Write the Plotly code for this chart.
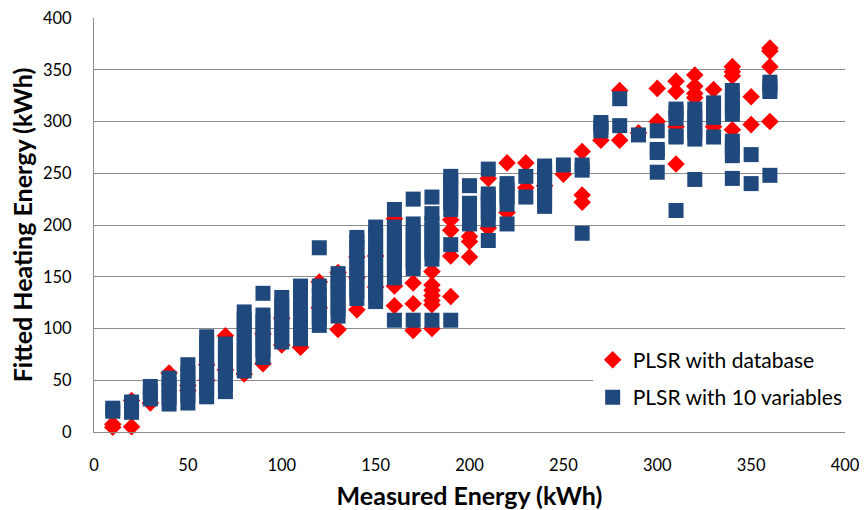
import plotly.graph_objects as go

# Measured energy (x) and fitted energy (y), kWh
# --- PLSR with database (red diamonds)
db_x = [10, 10, 20, 20, 30, 40, 50, 50, 60, 60, 70, 70, 80, 90, 90, 100, 100, 110,
        120, 120, 130, 130, 140, 140, 140, 150, 150, 160, 160, 160, 170, 170, 170,
        180, 180, 180, 180, 180, 180, 180, 190, 190, 190, 190, 200, 200, 200,
        210, 210, 220, 220, 230, 230, 240, 250, 260, 260, 260, 270, 280, 280,
        290, 300, 300, 310, 310, 310, 310, 320, 320, 320, 320, 330, 330,
        340, 340, 340, 340, 350, 350, 360, 360, 360, 360]
db_y = [4.5, 7.5, 5, 30.5, 28, 57, 40, 45, 50, 65, 60, 93, 56, 66, 95, 84, 110, 82,
        145, 120, 154, 99, 118, 149, 169, 140, 170, 206, 141, 122, 144, 124, 98,
        155, 142, 137, 132, 127, 123, 100, 205, 195, 170, 131, 189, 184, 169,
        245, 197, 260, 212, 260, 236, 238, 249, 271, 229, 222, 282, 330, 282,
        289, 332, 300, 339, 329, 295, 259, 345, 334, 327, 323, 331, 295,
        353, 348, 344, 292, 324, 297, 371, 368, 353, 300]

# --- PLSR with 10 variables (blue squares)
var_x = [10, 10,
         20, 20, 20,
         30, 30, 30,
         40, 40, 40, 40, 40,
         50, 50, 50, 50, 50, 50,
         60, 60, 60, 60, 60, 60, 60, 60, 60,
         70, 70, 70, 70, 70, 70, 70, 70,
         80, 80, 80, 80, 80, 80, 80, 80, 80,
         90, 90, 90, 90, 90, 90, 90, 90,
         100, 100, 100, 100, 100, 100, 100,
         110, 110, 110, 110, 110, 110, 110, 110,
         120, 120, 120, 120, 120, 120, 120,
         130, 130, 130, 130, 130, 130, 130,
         140, 140, 140, 140, 140, 140, 140, 140, 140, 140,
         150, 150, 150, 150, 150, 150, 150, 150, 150, 150, 150,
         160, 160, 160, 160, 160, 160, 160, 160, 160, 160,
         170, 170, 170, 170, 170, 170, 170, 170, 170,
         180, 180, 180, 180, 180, 180, 180, 180, 180,
         190, 190, 190, 190, 190, 190, 190, 190,
         200, 200, 200, 200, 200,
         210, 210, 210, 210, 210, 210, 210,
         220, 220, 220, 220, 220,
         230, 230,
         240, 240, 240, 240, 240, 240, 240,
         250,
         260, 260, 260,
         270, 270, 270,
         280, 280,
         290,
         300, 300, 300, 300,
         310, 310, 310, 310, 310, 310,
         320, 320, 320, 320, 320, 320,
         330, 330, 330, 330,
         340, 340, 340, 340, 340, 340, 340, 340,
         350, 350,
         360, 360, 360, 360]
var_y = [20, 23,
         19, 24, 29,
         32, 38, 44,
         27, 33, 40, 46, 52,
         28, 35, 42, 50, 57, 65,
         34, 41, 48, 55, 63, 70, 77, 85, 92,
         39, 46, 53, 60, 67, 74, 80, 85,
         59, 66, 73, 80, 87, 95, 102, 109, 116,
         72, 79, 86, 93, 100, 107, 113, 134,
         87, 94, 101, 108, 115, 122, 130,
         90, 97, 104, 111, 118, 126, 134, 141,
         103, 110, 117, 124, 132, 141, 178,
         112, 119, 126, 133, 140, 146, 153,
         129, 136, 143, 150, 157, 164, 171, 178, 184, 188,
         126, 133, 140, 147, 154, 161, 168, 175, 182, 190, 198,
         108, 149, 156, 163, 170, 177, 184, 191, 198, 215,
         108, 158, 165, 172, 179, 186, 193, 201, 225,
         108, 167, 174, 181, 188, 195, 202, 211, 227,
         108, 181, 215, 222, 229, 236, 242, 247,
         201, 207, 214, 221, 238,
         185, 205, 212, 220, 226, 230, 254,
         201, 220, 227, 234, 240,
         227, 247,
         218, 225, 232, 239, 246, 252, 257,
         258,
         192, 253, 258,
         291, 295, 299,
         296, 322,
         287,
         251, 270, 273, 291,
         214, 285, 286, 303, 308, 312,
         244, 283, 290, 297, 304, 312,
         285, 304, 311, 318,
         245, 267, 274, 281, 307, 314, 321, 330,
         240, 268,
         248, 329, 334, 338]

series_names = ["PLSR with database", "PLSR with 10 variables"]
tick_vals = [0, 50, 100, 150, 200, 250, 300, 350, 400]
x_title = "Measured Energy (kWh)"
y_title = "Fitted Heating Energy (kWh)"

RED = "#FF0000"
BLUE = "#1F497D"
GRID = "#8C8C8C"

fig = go.Figure()
fig.add_trace(go.Scatter(
    x=db_x, y=db_y, mode="markers", name=series_names[0], legendgroup="a",
    marker=dict(symbol="diamond", size=13.5, color=RED, line=dict(width=0)),
    cliponaxis=False,
))
fig.add_trace(go.Scatter(
    x=var_x, y=var_y, mode="markers", name=series_names[1], legendgroup="b",
    marker=dict(symbol="square", size=15, color=BLUE, line=dict(width=0)),
    cliponaxis=False,
))

fig.update_layout(
    width=865, height=510,
    margin=dict(l=93.5, r=19.5, t=18.3, b=78.3, autoexpand=False),
    paper_bgcolor="white", plot_bgcolor="white",
    font=dict(family="Lato, Carlito, sans-serif", color="#000000", size=16),
    showlegend=True,
    legend=dict(
        x=0.664, y=0.223, xanchor="left", yanchor="top",
        bgcolor="white", borderwidth=0,
        font=dict(size=21, family="Lato, sans-serif", color="#000000"),
        traceorder="grouped", tracegroupgap=7,
        itemclick=False,
    ),
)
fig.update_xaxes(
    range=[0, 400], tickvals=tick_vals, showgrid=False, zeroline=False,
    showline=True, linecolor=GRID, linewidth=1, ticks="",
    tickfont=dict(size=16.5), ticklabelstandoff=18,
    title=dict(text="<b>" + x_title + "</b>", font=dict(size=25), standoff=13),
)
fig.update_yaxes(
    range=[0, 400], tickvals=tick_vals, showgrid=True, gridcolor=GRID, gridwidth=1,
    zeroline=False, showline=True, linecolor=GRID, linewidth=1, ticks="",
    tickfont=dict(size=16.5), ticklabelstandoff=18,
    title=dict(text="<b>" + y_title + "</b>", font=dict(size=25), standoff=3),
)

fig.write_html("out.html")
